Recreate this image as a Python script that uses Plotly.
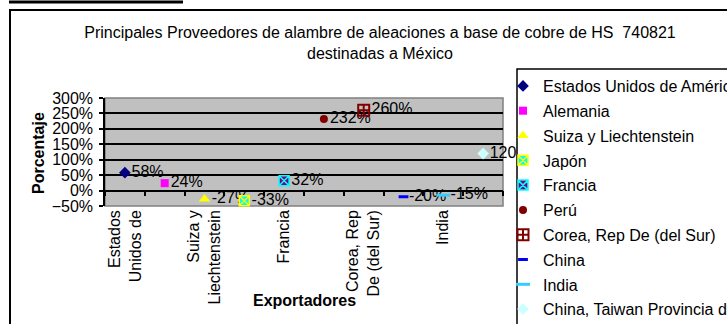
import plotly.graph_objects as go

W, H = 727, 324
ML, MR, MT, MB = 105, 224, 98, 118

countries = ["Estados Unidos de América", "Alemania", "Suiza y Liechtenstein", "Japón",
             "Francia", "Perú", "Corea, Rep De (del Sur)", "China", "India",
             "China, Taiwan Provincia de"]
values = [0.58, 0.24, -0.27, -0.33, 0.32, 2.32, 2.60, -0.20, -0.15, 1.20]
value_labels = ["58%", "24%", "-27%", "-33%", "32%", "232%", "260%", "-20%", "-15%", "120%"]
tick_countries = ["Estados Unidos de América", "Suiza y Liechtenstein", "Francia",
                  "Corea, Rep De (del Sur)", "India"]
tick_labels = ["Estados<br>Unidos de", "Suiza y<br>Liechtenstein", "Francia",
               "Corea, Rep<br>De (del Sur)", "India"]
y_ticks = [-0.5, 0, 0.5, 1.0, 1.5, 2.0, 2.5, 3.0]

symbols = ["diamond", "square", "triangle-up", "square-x", "square-x", "circle",
           "square-cross-open", "line-ew", "line-ew", "diamond"]
colors = ["#000080", "#FF00FF", "#FFFF00", "#00FFFF", "#800080", "#800000",
          "#800000", "#0000FF", "#33CCFF", "#CCFFFF"]
line_colors = ["#000080", "#FF00FF", "#FFFF00", "#FFFF00", "#00FFFF", "#800000",
               "#800000", "#0000FF", "#33CCFF", "#CCFFFF"]
sizes = [9, 8, 10, 10, 10, 8, 11, 7, 10, 9]
line_widths = [0, 0, 0, 1.5, 1.5, 0, 2, 3, 3, 0]

PW = W - ML - MR
PH = H - MT - MB


def px(x):
    return (x - ML) / PW


def py(y):
    return (H - MB - y) / PH


FONT = "Liberation Sans, Arial, sans-serif"
FS = 16

fig = go.Figure()
for i, c in enumerate(countries):
    fig.add_trace(go.Scatter(
        x=[c], y=[values[i]], name=c, mode="markers+text",
        text=[value_labels[i]], textposition="middle right",
        textfont=dict(family=FONT, size=FS, color="black"),
        marker=dict(symbol=symbols[i], color=colors[i], size=sizes[i],
                    line=dict(color=line_colors[i], width=line_widths[i])),
        cliponaxis=False, legendgroup=c,
    ))

shapes = [
    dict(type="line", xref="paper", yref="paper", x0=px(9), x1=px(183), y0=py(2), y1=py(2),
         line=dict(color="black", width=3)),
    dict(type="rect", xref="paper", yref="paper", x0=px(10), x1=px(745), y0=py(10), y1=py(345),
         line=dict(color="black", width=2), layer="below"),
    dict(type="rect", xref="paper", yref="paper", x0=0, x1=1, y0=0, y1=1,
         line=dict(color="#808080", width=1.5), layer="below"),
    dict(type="rect", xref="paper", yref="paper", x0=px(517), x1=px(745), y0=py(69), y1=py(345),
         line=dict(color="black", width=1.5), fillcolor="white", layer="above"),
]

fig.update_layout(
    width=W, height=H,
    margin=dict(l=ML, r=MR, t=MT, b=MB, pad=0, autoexpand=False),
    paper_bgcolor="white", plot_bgcolor="#C0C0C0",
    font=dict(family=FONT, size=FS, color="black"),
    title=dict(text="Principales Proveedores de alambre de aleaciones a base de cobre de HS  740821<br>destinadas a México",
               x=380 / W, xanchor="center", y=1 - 38 / H, yanchor="middle",
               font=dict(family=FONT, size=FS, color="black")),
    xaxis=dict(type="category", categoryorder="array", categoryarray=countries,
               range=[-0.5, 9.5], tickvals=tick_countries, ticktext=tick_labels,
               tickangle=-90, ticks="", ticklen=0, showgrid=False, showline=False, zeroline=False,
               tickfont=dict(family=FONT, size=FS)),
    xaxis2=dict(overlaying="x", anchor="free", position=0.5 / 3.5, range=[-0.5, 9.5],
                tick0=-0.5, dtick=1, ticks="outside", ticklen=5, tickwidth=1.5,
                tickcolor="black", showline=True, linecolor="black", linewidth=1.5,
                showticklabels=False, showgrid=False, zeroline=False),
    yaxis=dict(range=[-0.5, 3.0], tickvals=y_ticks, tickformat=".0%",
               showgrid=True, gridcolor="black", gridwidth=1.5, zeroline=False,
               showline=True, linecolor="black", linewidth=1.5,
               ticks="outside", ticklen=4, tickwidth=1.5, tickcolor="black",
               ticklabelstandoff=3,
               tickfont=dict(family=FONT, size=FS)),
    legend=dict(x=px(503), y=py(69), xanchor="left", yanchor="top",
                bgcolor="rgba(0,0,0,0)", borderwidth=0, tracegroupgap=1,
                font=dict(family=FONT, size=FS, color="black"), maxheight=600),
    shapes=shapes,
    annotations=[
        dict(text="<b>Porcentaje</b>", xref="paper", yref="paper", x=px(38), y=py(153),
             xanchor="center", yanchor="middle",
             textangle=-90, showarrow=False, font=dict(family=FONT, size=FS)),
        dict(text="<b>Exportadores</b>", xref="paper", yref="paper", x=px(304), y=py(300),
             xanchor="center", yanchor="middle",
             showarrow=False, font=dict(family=FONT, size=FS)),
    ],
    showlegend=True,
)
fig.add_trace(go.Scatter(x=[None], y=[None], xaxis="x2", showlegend=False, hoverinfo="skip"))

fig.write_html("out.html", config={"displayModeBar": False},
               post_script="document.body.style.margin='0px';document.body.style.overflow='hidden';")
